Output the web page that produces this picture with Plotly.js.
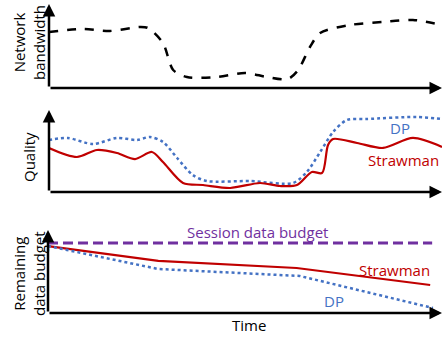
<!DOCTYPE html>
<html><head><meta charset="utf-8">
<script src="https://cdn.plot.ly/plotly-3.0.1.min.js"></script>
<style>html,body{margin:0;padding:0;background:#fff}#c{width:442px;height:339px}</style>
</head><body><div id="c"></div>
<script>
// Panel 1: network bandwidth (arbitrary units 0-100), time 0-100
const bwTime = [0, 8.7, 15.5, 23.2, 25.2, 29, 31.6, 35.1, 42.7, 49.9, 55.5, 60.8, 63.4, 66.4, 69, 76.6, 85, 92.6, 100];
const bwValue = [66.7, 70.2, 67.9, 72.6, 71.4, 53.6, 21.4, 13.1, 13.1, 17.9, 13.1, 10.7, 21.4, 48.8, 65.5, 75, 78.6, 81, 75];

// Panel 2: quality
const dpQTime = [0, 4.8, 11.2, 17.3, 22.4, 25.7, 29, 32.6, 36.6, 40.2, 51.1, 62.1, 65.6, 69, 72.3, 75.8, 80.9, 93.6, 100];
const dpQValue = [63.4, 65.9, 58.5, 65.9, 63.4, 67.1, 61, 41.5, 20.7, 13.4, 13.4, 11, 24.4, 48.8, 73.2, 87.8, 89, 91.5, 89];
const swQTime = [0, 7.1, 12.2, 17.3, 21.9, 26.2, 29, 34.1, 39.2, 46.1, 53.7, 58.8, 63.1, 66.9, 69.5, 71, 72.3, 78.4, 85, 92.6, 100];
const swQValue = [53.7, 42.7, 51.2, 47.6, 40.2, 48.8, 36.6, 11, 8.5, 4.9, 11, 7.3, 8.5, 24.4, 23.2, 57.3, 64.6, 59.8, 53.7, 65.9, 54.9];

// Panel 3: remaining data budget
const budgetTime = [0, 97.5];
const budgetValue = [84.3, 84.3];
const swBTime = [0, 28, 63.1, 97];
const swBValue = [80.7, 62.7, 54.2, 33.7];
const dpBTime = [0, 28, 63.9, 97.7];
const dpBValue = [80.7, 53, 44.6, 6];

const RED = '#C00000', BLUE = '#4472C4', PURPLE = '#7030A0';
const FONT = 'Open Sans, sans-serif';

const traces = [
  {x: bwTime, y: bwValue, xaxis: 'x', yaxis: 'y', mode: 'lines', line: {color: '#000', width: 2.5, dash: 'dash', shape: 'spline', smoothing: 0.8}},
  {x: dpQTime, y: dpQValue, xaxis: 'x2', yaxis: 'y2', mode: 'lines', line: {color: BLUE, width: 2.5, dash: 'dot', shape: 'spline', smoothing: 0.8}},
  {x: swQTime, y: swQValue, xaxis: 'x2', yaxis: 'y2', mode: 'lines', line: {color: RED, width: 2.2, shape: 'spline', smoothing: 0.8}},
  {x: budgetTime, y: budgetValue, xaxis: 'x3', yaxis: 'y3', mode: 'lines', line: {color: PURPLE, width: 3, dash: '10px,5px'}},
  {x: swBTime, y: swBValue, xaxis: 'x3', yaxis: 'y3', mode: 'lines', line: {color: RED, width: 2.2}},
  {x: dpBTime, y: dpBValue, xaxis: 'x3', yaxis: 'y3', mode: 'lines', line: {color: BLUE, width: 2.5, dash: 'dot'}}
];

const xd = [49/442, 1];
const ax = (dom) => ({domain: dom, range: [0, 100], visible: false, fixedrange: true});
const pd = (top, bot) => [1 - bot/339, 1 - top/339];

function arrows(xr, yr) {
  return [
    {xref: xr, yref: yr, axref: xr, ayref: yr, x: 0, y: 100, ax: 0, ay: 0, showarrow: true, arrowhead: 2, arrowsize: 1, arrowwidth: 2.5, arrowcolor: '#000', text: ''},
    {xref: xr, yref: yr, axref: xr, ayref: yr, x: 100, y: 0, ax: 0, ay: 0, showarrow: true, arrowhead: 2, arrowsize: 1, arrowwidth: 2.5, arrowcolor: '#000', text: ''}
  ];
}
function txt(o) {
  return Object.assign({showarrow: false, xanchor: 'center', yanchor: 'middle'}, o);
}

const anns = [].concat(
  arrows('x', 'y'), arrows('x2', 'y2'), arrows('x3', 'y3'),
  [
    txt({xref: 'paper', yref: 'paper', x: 29/442, y: 1 - 43/339, text: 'Network<br>bandwidth', textangle: -90, font: {family: FONT, size: 15, color: '#000'}}),
    txt({xref: 'paper', yref: 'paper', x: 29/442, y: 1 - 157/339, text: 'Quality', textangle: -90, font: {family: FONT, size: 15, color: '#000'}}),
    txt({xref: 'paper', yref: 'paper', x: 29/442, y: 1 - 274/339, text: 'Remaining<br>data budget', textangle: -90, font: {family: FONT, size: 15, color: '#000'}}),
    txt({xref: 'x2', yref: 'y2', x: 89.3, y: 78, text: 'DP', font: {family: FONT, size: 15, color: BLUE}}),
    txt({xref: 'x2', yref: 'y2', x: 99.8, y: 39, xanchor: 'right', text: 'Strawman', font: {family: FONT, size: 15, color: RED}}),
    txt({xref: 'x3', yref: 'y3', x: 53.1, y: 97.6, text: 'Session data budget', font: {family: FONT, size: 15, color: PURPLE}}),
    txt({xref: 'x3', yref: 'y3', x: 87.9, y: 51.8, text: 'Strawman', font: {family: FONT, size: 15, color: RED}}),
    txt({xref: 'x3', yref: 'y3', x: 72.6, y: 14.5, text: 'DP', font: {family: FONT, size: 15, color: BLUE}}),
    txt({xref: 'x3', yref: 'paper', x: 51.1, y: 1 - 325/339, text: 'Time', font: {family: FONT, size: 15, color: '#000'}})
  ]
);

const layout = {
  width: 442, height: 339,
  margin: {l: 0, r: 0, t: 0, b: 0, autoexpand: false},
  paper_bgcolor: '#fff', plot_bgcolor: '#fff',
  showlegend: false,
  xaxis: ax(xd), yaxis: ax(pd(4, 88)),
  xaxis2: ax(xd), yaxis2: ax(pd(110, 192)),
  xaxis3: ax([48/442, 1]), yaxis3: ax(pd(230, 313)),
  annotations: anns
};
layout.xaxis.anchor = 'y'; layout.yaxis.anchor = 'x';
layout.xaxis2.anchor = 'y2'; layout.yaxis2.anchor = 'x2';
layout.xaxis3.anchor = 'y3'; layout.yaxis3.anchor = 'x3';

Plotly.newPlot('c', traces, layout, {staticPlot: true, displayModeBar: false});
</script></body></html>
